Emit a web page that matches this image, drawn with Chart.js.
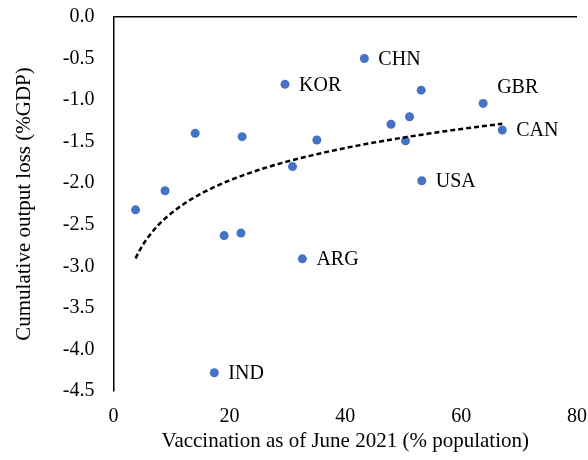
<!DOCTYPE html>
<html>
<head>
<meta charset="utf-8">
<script src="https://cdn.jsdelivr.net/npm/chart.js@4/dist/chart.umd.min.js"></script>
<style>
  html, body { margin: 0; padding: 0; background: #fff; }
  #wrap { width: 588px; height: 460px; }
</style>
</head>
<body>
<div id="wrap"><canvas id="myChart" width="588" height="460"></canvas></div>
<script>
// vaccination share (% population) and cumulative output loss (% GDP)
const vaccination = [3.8, 8.9, 14.1, 22.2, 19.1, 22.0, 29.6, 30.9, 32.6, 35.1, 17.4, 43.3, 47.9, 51.1, 50.4, 53.1, 53.2, 63.8, 67.1];
const outputLoss = [-2.32, -2.09, -1.40, -1.44, -2.63, -2.60, -0.81, -1.80, -2.91, -1.48, -4.28, -0.50, -1.29, -1.20, -1.49, -0.88, -1.97, -1.04, -1.36];
const countryLabels = ["", "", "", "", "", "", "KOR", "", "ARG", "", "IND", "CHN", "", "", "", "", "USA", "GBR", "CAN"];
const xTicks = [0, 20, 40, 60, 80];
const yTicks = [0, -0.5, -1, -1.5, -2, -2.5, -3, -3.5, -4, -4.5];

const FONT = "'Liberation Serif', 'Times New Roman', serif";

// Logarithmic trendline, least squares fit of y on ln(x)
function logFit(xs, ys) {
  const n = xs.length;
  const lx = xs.map((x) => Math.log(x));
  const mx = lx.reduce((a, b) => a + b, 0) / n;
  const my = ys.reduce((a, b) => a + b, 0) / n;
  let sxy = 0;
  let sxx = 0;
  for (let i = 0; i < n; i++) {
    sxy += (lx[i] - mx) * (ys[i] - my);
    sxx += (lx[i] - mx) * (lx[i] - mx);
  }
  const b = sxy / sxx;
  return { a: my - b * mx, b: b };
}

const fit = logFit(vaccination, outputLoss);
const xMin = Math.min(...vaccination);
const xMax = Math.max(...vaccination);
const trend = [];
for (let i = 0; i <= 80; i++) {
  const x = xMin + ((xMax - xMin) * i) / 80;
  trend.push({ x: x, y: fit.a + fit.b * Math.log(x) });
}

const points = vaccination.map((v, i) => ({ x: v, y: outputLoss[i] }));

// labels drawn to the right of their point
const labelShift = { GBR: { dx: 14, dy: -16 } };
const pointLabels = {
  id: "pointLabels",
  afterDatasetsDraw(chart) {
    const ctx = chart.ctx;
    const meta = chart.getDatasetMeta(1);
    ctx.save();
    ctx.font = "20px " + FONT;
    ctx.fillStyle = "#000";
    ctx.textAlign = "left";
    ctx.textBaseline = "middle";
    meta.data.forEach((el, i) => {
      const txt = countryLabels[i];
      if (!txt) return;
      const s = labelShift[txt] || { dx: 14, dy: 1 };
      ctx.fillText(txt, el.x + s.dx, el.y + s.dy);
    });
    ctx.restore();
  },
};

const config = {
  type: "scatter",
  data: {
    datasets: [
      {
        type: "line",
        data: trend,
        borderColor: "#000",
        borderWidth: 2.5,
        borderDash: [5, 3],
        pointRadius: 0,
        fill: false,
        tension: 0,
        order: 0,
      },
      {
        data: points,
        backgroundColor: "#4472C4",
        borderColor: "#4472C4",
        pointRadius: 4.5,
        pointBorderWidth: 0,
        order: 1,
      },
    ],
  },
  options: {
    responsive: false,
    animation: false,
    layout: { padding: { top: 17, right: 11, bottom: 0, left: 0 } },
    plugins: {
      legend: { display: false },
      tooltip: { enabled: false },
    },
    scales: {
      x: {
        type: "linear",
        min: 0,
        max: 80,
        afterBuildTicks: (scale) => {
          scale.ticks = xTicks.map((v) => ({ value: v }));
        },
        afterFit: (scale) => {
          scale.height = 69;
          scale.paddingLeft = 0;
          scale.paddingRight = 0;
        },
        border: { display: false },
        grid: { display: false, drawTicks: false },
        ticks: {
          color: "#000",
          padding: 14,
          font: { family: FONT, size: 20 },
        },
        title: {
          display: true,
          text: "Vaccination as of June 2021 (% population)",
          color: "#000",
          font: { family: FONT, size: 21 },
          padding: { top: 0, bottom: 6 },
        },
      },
      y: {
        type: "linear",
        min: -4.5,
        max: 0,
        afterBuildTicks: (scale) => {
          scale.ticks = yTicks.map((v) => ({ value: v }));
        },
        afterFit: (scale) => {
          scale.width = 113.5;
          scale.paddingTop = 0;
          scale.paddingBottom = 0;
        },
        border: { display: true, color: "#000", width: 1.5 },
        grid: {
          drawTicks: false,
          lineWidth: 1.5,
          color: (c) => (c.tick && c.tick.value === 0 ? "#000" : "rgba(0,0,0,0)"),
        },
        ticks: {
          color: "#000",
          padding: 19,
          font: { family: FONT, size: 20 },
          callback: (v) => Number(v).toFixed(1),
        },
        title: {
          display: true,
          text: "Cumulative output loss (%GDP)",
          color: "#000",
          font: { family: FONT, size: 21 },
          padding: { top: 12, bottom: 0 },
        },
      },
    },
  },
  plugins: [pointLabels],
};

new Chart(document.getElementById("myChart"), config);
</script>
</body>
</html>
